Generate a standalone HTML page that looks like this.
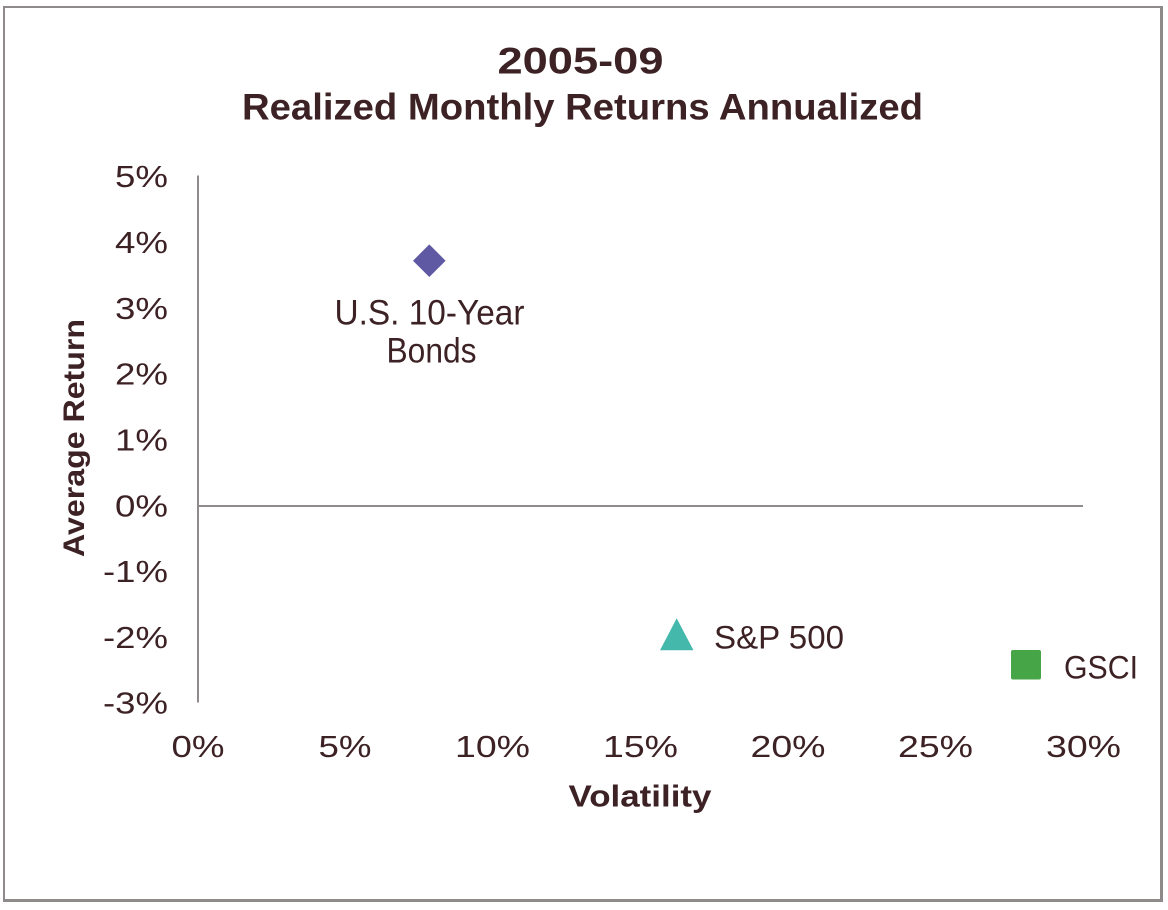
<!DOCTYPE html>
<html>
<head>
<meta charset="utf-8">
<style>
  html, body { margin:0; padding:0; background:#ffffff; }
  svg { display:block; }
  text { font-family: "Liberation Sans", "DejaVu Sans", sans-serif; fill:#3d2225; }
  .b { font-weight:bold; }
</style>
</head>
<body>
<svg width="1168" height="910" viewBox="0 0 1168 910" xmlns="http://www.w3.org/2000/svg">
  <rect x="0" y="0" width="1168" height="910" fill="#ffffff"/>
  <!-- frame -->
  <line x1="4" y1="7" x2="1163" y2="7" stroke="#8e8a8a" stroke-width="2"/>
  <line x1="4" y1="6" x2="4" y2="902" stroke="#8e8a8a" stroke-width="2"/>
  <line x1="1161.5" y1="6" x2="1161.5" y2="902" stroke="#8e8a8a" stroke-width="3"/>
  <line x1="3" y1="900.5" x2="1163" y2="900.5" stroke="#8e8a8a" stroke-width="3"/>

  <!-- title -->
  <text class="b" x="580.5" y="73.5" font-size="37" text-anchor="middle" textLength="166" lengthAdjust="spacingAndGlyphs">2005-09</text>
  <text class="b" x="582.5" y="119.5" font-size="37" text-anchor="middle" textLength="681" lengthAdjust="spacingAndGlyphs">Realized Monthly Returns Annualized</text>

  <!-- axes -->
  <line x1="198" y1="175.5" x2="198" y2="702.5" stroke="#8f8a8b" stroke-width="2"/>
  <line x1="197" y1="506" x2="1083" y2="506" stroke="#8f8a8b" stroke-width="2"/>

  <!-- y tick labels -->
  <g font-size="31" text-anchor="end">
    <text x="168" y="187" textLength="53" lengthAdjust="spacingAndGlyphs">5%</text>
    <text x="168" y="253" textLength="53" lengthAdjust="spacingAndGlyphs">4%</text>
    <text x="168" y="319" textLength="53" lengthAdjust="spacingAndGlyphs">3%</text>
    <text x="168" y="384.5" textLength="53" lengthAdjust="spacingAndGlyphs">2%</text>
    <text x="168" y="450.5" textLength="53" lengthAdjust="spacingAndGlyphs">1%</text>
    <text x="168" y="516.5" textLength="53" lengthAdjust="spacingAndGlyphs">0%</text>
    <text x="168" y="582" textLength="65" lengthAdjust="spacingAndGlyphs">-1%</text>
    <text x="168" y="648" textLength="65" lengthAdjust="spacingAndGlyphs">-2%</text>
    <text x="168" y="713.5" textLength="65" lengthAdjust="spacingAndGlyphs">-3%</text>
  </g>

  <!-- x tick labels -->
  <g font-size="31" text-anchor="middle">
    <text x="198" y="757" textLength="53" lengthAdjust="spacingAndGlyphs">0%</text>
    <text x="345" y="757" textLength="53" lengthAdjust="spacingAndGlyphs">5%</text>
    <text x="492.5" y="757" textLength="75" lengthAdjust="spacingAndGlyphs">10%</text>
    <text x="640.5" y="757" textLength="75" lengthAdjust="spacingAndGlyphs">15%</text>
    <text x="788" y="757" textLength="75" lengthAdjust="spacingAndGlyphs">20%</text>
    <text x="935.5" y="757" textLength="75" lengthAdjust="spacingAndGlyphs">25%</text>
    <text x="1083.5" y="757" textLength="75" lengthAdjust="spacingAndGlyphs">30%</text>
  </g>

  <!-- axis titles -->
  <text class="b" x="640" y="806.5" font-size="31" text-anchor="middle" textLength="143" lengthAdjust="spacingAndGlyphs">Volatility</text>
  <text class="b" transform="translate(84,438) rotate(-90)" x="0" y="0" font-size="30" text-anchor="middle" textLength="238" lengthAdjust="spacingAndGlyphs">Average Return</text>

  <!-- series: bonds -->
  <polygon points="429.3,244.4 445.6,260.7 429.3,277 413,260.7" fill="#5f59a3"/>
  <text x="429.5" y="324.5" font-size="35" text-anchor="middle" textLength="190" lengthAdjust="spacingAndGlyphs">U.S. 10-Year</text>
  <text x="431.5" y="362.5" font-size="35" text-anchor="middle" textLength="90" lengthAdjust="spacingAndGlyphs">Bonds</text>

  <!-- series: S&P 500 -->
  <polygon points="676.7,618.3 693.5,650.3 660,650.3" fill="#45b8ac"/>
  <text x="714" y="648.5" font-size="32.5" textLength="130" lengthAdjust="spacingAndGlyphs">S&amp;P 500</text>

  <!-- series: GSCI -->
  <rect x="1011" y="650" width="30" height="29.5" rx="2" ry="2" fill="#46a647"/>
  <text x="1064" y="678.5" font-size="32.5" textLength="74" lengthAdjust="spacingAndGlyphs">GSCI</text>
</svg>
</body>
</html>
